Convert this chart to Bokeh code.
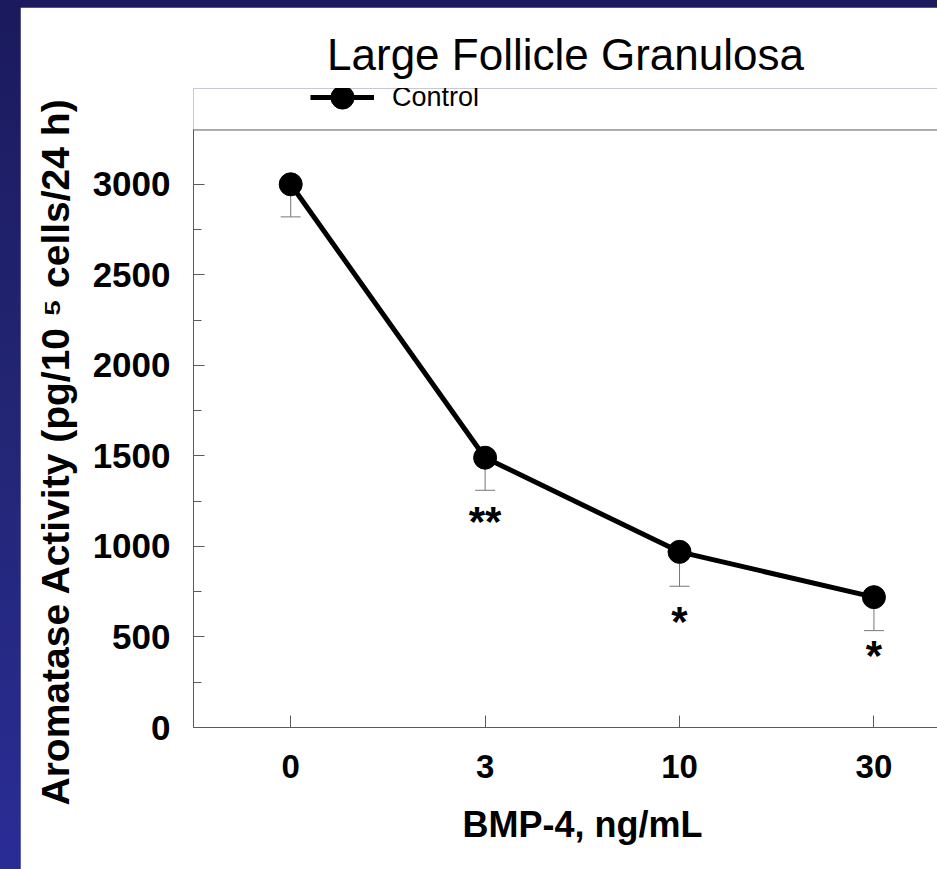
from bokeh.plotting import figure
from bokeh.models import (ColumnDataSource, FixedTicker, LinearAxis, Whisker, TeeHead,
                          Title, Legend, LegendItem, Range1d, Span)
from bokeh.layouts import column
from bokeh.core.properties import value
from bokeh.embed import file_html
from bokeh.resources import INLINE

# ---- data ----
doses = ["0", "3", "10", "30"]
activity = [3000, 1490, 970, 720]
err_lower = [2820, 1310, 780, 535]
sig_marks = ["", "**", "*", "*"]
sig_y = [0, 1140, 585, 400]
y_ticks = [0, 500, 1000, 1500, 2000, 2500, 3000]
y_minor = [250, 750, 1250, 1750, 2250, 2750]
y_axis_top = 3300

title_text = "Large Follicle Granulosa"
x_title = "BMP-4, ng/mL"
y_title = "Aromatase Activity (pg/10 \u2075 cells/24 h)"
series_name = "Control"

FONT = "'Liberation Sans', Arial, sans-serif"
AXC = "#5a5a5a"

xs = list(range(len(doses)))
src = ColumnDataSource(dict(x=xs, y=activity, lo=err_lower))

p = figure(width=917, height=862, output_backend="svg", toolbar_location=None,
           x_range=Range1d(-0.5, 3.327), y_range=Range1d(0, 3529),
           min_border_left=171, min_border_top=81, min_border_right=0,
           min_border_bottom=134, x_axis_type=None, y_axis_type=None)
p.margin = (7, 0, 0, 20)
p.outline_line_color = None
p.background_fill_color = "white"
p.border_fill_color = "white"
p.xgrid.visible = False
p.ygrid.visible = False

# y axis
ya = LinearAxis(ticker=FixedTicker(ticks=y_ticks, minor_ticks=y_minor), bounds=(0, y_axis_top))
ya.axis_line_color = AXC
ya.major_tick_line_color = AXC
ya.minor_tick_line_color = AXC
ya.major_tick_in = 11
ya.major_tick_out = 0
ya.minor_tick_in = 8
ya.minor_tick_out = 0
ya.major_label_standoff = 23
ya.major_label_text_font = FONT
ya.major_label_text_font_style = "bold"
ya.major_label_text_font_size = "35px"
ya.major_label_text_color = "black"
p.add_layout(ya, "left")

# x axis
xa = LinearAxis(ticker=FixedTicker(ticks=xs, minor_ticks=[]))
xa.major_label_overrides = {i: d for i, d in enumerate(doses)}
xa.axis_line_color = AXC
xa.major_tick_line_color = AXC
xa.major_tick_in = 12
xa.major_tick_out = 0
xa.minor_tick_line_color = None
xa.major_label_standoff = 27
xa.major_label_text_font = FONT
xa.major_label_text_font_style = "bold"
xa.major_label_text_font_size = "33px"
xa.major_label_text_color = "black"
p.add_layout(xa, "below")

# top frame line
p.add_layout(Span(location=y_axis_top, dimension="width", line_color=AXC, line_width=1))

# error bars (lower only)
wh = Whisker(base="x", upper="y", lower="lo", source=src, dimension="height",
             line_color="#777777", line_width=1, upper_head=None,
             lower_head=TeeHead(size=20, line_color="#777777", line_width=1))
p.add_layout(wh)

line_r = p.line("x", "y", source=src, line_color="black", line_width=5)
dot_r = p.scatter("x", "y", source=src, marker="circle", size=23,
                  fill_color="black", line_color="black")

# significance marks
sx = [x for x, m in zip(xs, sig_marks) if m]
sy = [y for y, m in zip(sig_y, sig_marks) if m]
st = [m for m in sig_marks if m]
p.text(x=sx, y=sy, text=st, text_font=value(FONT), text_font_style="bold",
       text_font_size="42px", text_align="center", text_baseline="middle",
       text_color="black")

# legend (top-left, above the frame line)
leg = Legend(items=[LegendItem(label=series_name, renderers=[line_r, dot_r])],
             location=(117, 601), padding=0, margin=0, spacing=0,
             glyph_width=64, glyph_height=58, label_height=58, label_standoff=18,
             border_line_color=None, background_fill_alpha=0)
leg.label_text_font = FONT
leg.label_text_font_size = "27px"
leg.label_text_color = "black"
p.add_layout(leg)

# main title
p.title.text = title_text
p.title.align = "center"
p.title.vertical_align = "bottom"
p.title.standoff = 20
p.title.text_font = FONT
p.title.text_font_style = "normal"
p.title.text_font_size = "44px"
p.title.text_color = "black"

# x axis title
p.add_layout(Title(text=x_title, align="left", offset=269, vertical_align="top",
                   standoff=46, text_font=FONT, text_font_style="bold",
                   text_font_size="36px", text_color="black"), "below")

# y axis title
p.add_layout(Title(text=y_title, align="left", offset=-78, vertical_align="middle",
                   standoff=24, text_font=FONT, text_font_style="bold",
                   text_font_size="39px", text_color="black"), "left")

lay = column(p, styles={"background": "linear-gradient(to bottom, #1b1a5e 0%, #232675 50%, #2a2c95 100%)"})
open("out.html", "w").write(file_html(lay, INLINE))
